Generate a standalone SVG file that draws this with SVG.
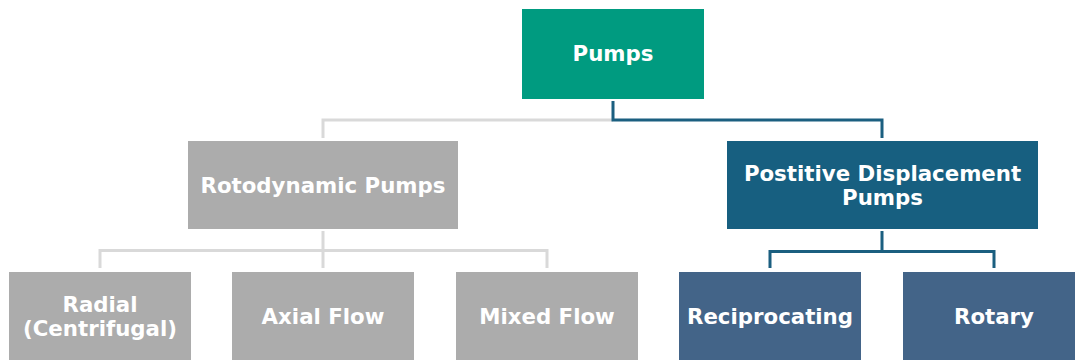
<svg xmlns="http://www.w3.org/2000/svg" width="1075" height="360" viewBox="0 0 1075 360">
  <style>
    .label { font-family: "DejaVu Sans", Verdana, sans-serif; font-weight: bold; font-size: 21.3px; fill: #ffffff; text-anchor: middle; }
    .root { fill: #009b80; }
    .grey { fill: #acacac; }
    .pd { fill: #175f80; }
    .pdchild { fill: #436488; }
    .edge-grey { fill: none; stroke: #d9d9d9; stroke-width: 3; }
    .edge-blue { fill: none; stroke: #1b5f80; stroke-width: 3; }
  </style>
  <rect width="1075" height="360" fill="#ffffff"/>

  <!-- connectors -->
  <g id="connectors">
    <path class="edge-grey" d="M323 138 V120 H613"/>
    <path class="edge-blue" d="M613 101 V120 H882 V138"/>
    <path class="edge-grey" d="M323 231 V250.5 M100 268 V250.5 H547 V268 M323 250.5 V268"/>
    <path class="edge-blue" d="M882 231 V251.5 M770 268 V251.5 H994 V268"/>
  </g>

  <!-- level 1 -->
  <g id="pumps">
    <rect class="root" x="522" y="9" width="182" height="90"/>
    <text class="label" x="613" y="61">Pumps</text>
  </g>

  <!-- level 2 -->
  <g id="rotodynamic">
    <rect class="grey" x="188" y="141" width="270" height="88"/>
    <text class="label" x="323" y="192.5">Rotodynamic Pumps</text>
  </g>
  <g id="positive-displacement">
    <rect class="pd" x="727" y="141" width="311" height="88"/>
    <text class="label" x="882.5" y="180.5">Postitive Displacement</text>
    <text class="label" x="882.5" y="204.5">Pumps</text>
  </g>

  <!-- level 3 -->
  <g id="radial">
    <rect class="grey" x="9" y="272" width="182" height="89"/>
    <text class="label" x="100" y="311.5">Radial</text>
    <text class="label" x="100" y="335.5">(Centrifugal)</text>
  </g>
  <g id="axial">
    <rect class="grey" x="232" y="272" width="182" height="89"/>
    <text class="label" x="323" y="323.5">Axial Flow</text>
  </g>
  <g id="mixed">
    <rect class="grey" x="456" y="272" width="182" height="89"/>
    <text class="label" x="547" y="323.5">Mixed Flow</text>
  </g>
  <g id="reciprocating">
    <rect class="pdchild" x="679" y="272" width="182" height="89"/>
    <text class="label" x="770" y="323.5">Reciprocating</text>
  </g>
  <g id="rotary">
    <rect class="pdchild" x="903" y="272" width="182" height="89"/>
    <text class="label" x="994" y="323.5">Rotary</text>
  </g>
</svg>
